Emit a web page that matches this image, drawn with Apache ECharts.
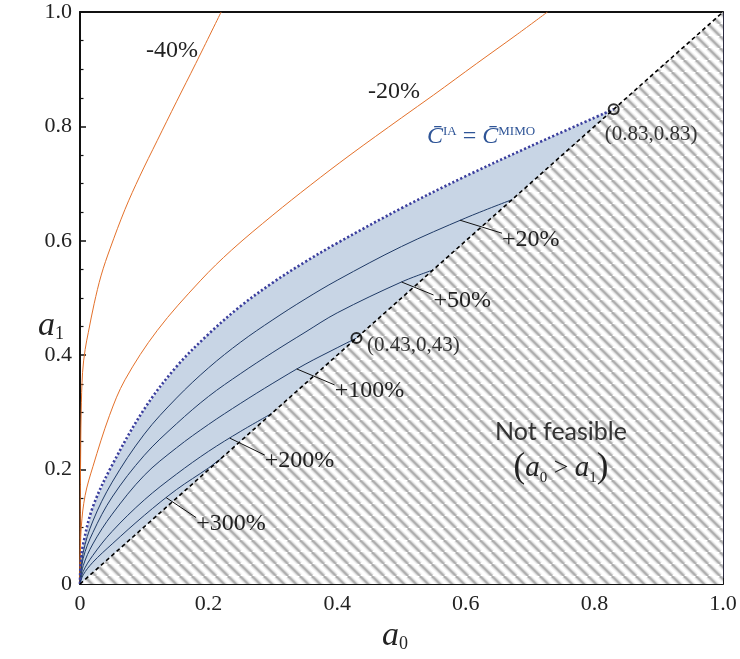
<!DOCTYPE html>
<html>
<head>
<meta charset="utf-8">
<script src="https://cdn.jsdelivr.net/npm/echarts@6.0.0/dist/echarts.min.js"></script>
<style>
  html, body { margin: 0; padding: 0; background: #fff; }
  #chart { width: 740px; height: 659px; }
</style>
</head>
<body>
<div id="chart"></div>
<script>
// ---- data (a0, a1) ----
// boundary where the IA sum capacity equals the MIMO one
const boundary = [[0,0],[0.001,0.035],[0.005,0.07],[0.02,0.135],[0.05,0.208],[0.1,0.306],[0.15,0.38],[0.2,0.437],[0.25,0.486],[0.3,0.527],[0.35,0.563],[0.4,0.596],[0.5,0.657],[0.6,0.713],[0.7,0.765],[0.83,0.83]];
// gain contours (IA over MIMO)
const gain20  = [[0,0],[0.005,0.055],[0.02,0.11],[0.05,0.178],[0.1,0.262],[0.15,0.325],[0.2,0.378],[0.25,0.423],[0.3,0.462],[0.35,0.498],[0.4,0.531],[0.5,0.59],[0.6,0.64],[0.672,0.672]];
const gain50  = [[0,0],[0.005,0.045],[0.02,0.09],[0.05,0.152],[0.1,0.225],[0.15,0.28],[0.2,0.328],[0.25,0.368],[0.3,0.405],[0.35,0.44],[0.4,0.474],[0.5,0.528],[0.549,0.549]];
const gain100 = [[0,0],[0.005,0.032],[0.02,0.07],[0.05,0.122],[0.1,0.19],[0.15,0.238],[0.2,0.279],[0.25,0.316],[0.3,0.351],[0.35,0.384],[0.4,0.413],[0.43,0.43]];
const gain200 = [[0,0],[0.005,0.022],[0.02,0.05],[0.05,0.092],[0.1,0.147],[0.15,0.192],[0.2,0.232],[0.25,0.267],[0.298,0.298]];
const gain300 = [[0,0],[0.005,0.016],[0.02,0.038],[0.05,0.07],[0.1,0.12],[0.15,0.165],[0.2,0.203],[0.222,0.222]];
// loss contours
const loss40 = [[0,0],[0.0003,0.1],[0.0008,0.2],[0.0018,0.3],[0.004,0.37],[0.008,0.41],[0.013,0.44],[0.022,0.49],[0.033,0.54],[0.047,0.587],[0.07,0.655],[0.093,0.713],[0.12,0.775],[0.15,0.843],[0.18,0.91],[0.2195,1.0]];
const loss20 = [[0,0],[0.0004,0.04],[0.002,0.1],[0.008,0.155],[0.02,0.205],[0.046,0.295],[0.07,0.357],[0.12,0.443],[0.187,0.53],[0.236,0.584],[0.3,0.645],[0.358,0.697],[0.42,0.75],[0.5,0.815],[0.55,0.855],[0.617,0.91],[0.68,0.961],[0.727,1.0]];
// a0 = a1 line and the infeasible triangle (a0 > a1)
const diagonal = [[0,0],[1,1]];
const infeasible = [[0,0],[1,0],[1,1]];
// marked points on the diagonal
const markedPoints = [[0.43,0.43],[0.83,0.83]];
// contour labels and the curve points their leaders start from
const leaderText = ['+20%','+50%','+100%','+200%','+300%'];
const leaderAnchors = [[0.591,0.636],[0.5,0.528],[0.337,0.376],[0.233,0.255],[0.134,0.151]];

// ---- layout ----
const leaderOffsets = [[42,13],[32,13],[38,16],[35,17],[30,20]];
const SERIF = '"Liberation Serif", "Times New Roman", serif';

// diagonal stripe tile for the infeasible region
function makeHatch() {
  const s = 12;
  const c = document.createElement('canvas');
  c.width = s; c.height = s;
  const g = c.getContext('2d');
  g.fillStyle = '#ffffff';
  g.fillRect(0, 0, s, s);
  const draw = (w, col) => {
    g.strokeStyle = col; g.lineWidth = w;
    for (const o of [-s, 0, s]) {
      g.beginPath(); g.moveTo(o, 0); g.lineTo(o + s, s); g.stroke();
    }
  };
  draw(5.5, '#eeeeee');
  draw(3.4, '#d2d2d2');
  draw(1.8, '#adadad');
  return c;
}

function polygonSeries(points, fill, z) {
  return {
    type: 'custom', coordinateSystem: 'cartesian2d', silent: true, z: z,
    data: [points[0]],
    renderItem: (params, api) => ({
      type: 'polygon',
      shape: { points: points.map(p => api.coord(p)) },
      style: { fill: fill }
    })
  };
}

function curve(data, color, width, type, z) {
  return {
    type: 'line', data: data, showSymbol: false, symbol: 'none', silent: true,
    smooth: 0.35, z: z,
    lineStyle: { color: color, width: width, type: type || 'solid' }
  };
}

const tickFmt = v => (v === 0 ? '0' : v.toFixed(1));
const axisCommon = {
  type: 'value', min: 0, max: 1, interval: 0.2,
  splitLine: { show: false },
  axisLine: { show: true, onZero: false, lineStyle: { color: '#111', width: 2 } },
  axisTick: { show: true, inside: true, length: 6, lineStyle: { color: '#111', width: 1.5 } },
  minorTick: { show: true, splitNumber: 4, length: 3.5, lineStyle: { color: '#111', width: 1.2 } },
  axisLabel: { formatter: tickFmt, fontFamily: SERIF, fontSize: 22, color: '#222' }
};

const chart = echarts.init(document.getElementById('chart'), null, { renderer: 'canvas' });

const option = {
  animation: false,
  backgroundColor: '#fff',
  grid: { left: 80, right: 17, top: 12, bottom: 75 },
  xAxis: [
    Object.assign({}, axisCommon, { position: 'bottom', axisLabel: Object.assign({}, axisCommon.axisLabel, { margin: 9 }) }),
    { type: 'value', min: 0, max: 1, position: 'top', axisLine: { show: true, onZero: false, lineStyle: { color: '#111', width: 2 } },
      axisTick: { show: false }, axisLabel: { show: false }, splitLine: { show: false } }
  ],
  yAxis: [
    Object.assign({}, axisCommon, { position: 'left', axisLabel: Object.assign({}, axisCommon.axisLabel, { margin: 8 }) }),
    { type: 'value', min: 0, max: 1, position: 'right', axisLine: { show: true, onZero: false, lineStyle: { color: '#2a2a40', width: 1 } },
      axisTick: { show: false }, axisLabel: { show: false }, splitLine: { show: false } }
  ],
  series: [
    polygonSeries(infeasible, { image: makeHatch(), repeat: 'repeat' }, 1),
    polygonSeries(boundary.concat([[0,0]]), '#c8d5e5', 2),
    curve(loss40, '#e3702a', 1, 'solid', 3),
    curve(loss20, '#e3702a', 1, 'solid', 3),
    curve(gain20,  '#1f3a66', 1, 'solid', 3),
    curve(gain50,  '#1f3a66', 1, 'solid', 3),
    curve(gain100, '#1f3a66', 1, 'solid', 3),
    curve(gain200, '#1f3a66', 1, 'solid', 3),
    curve(gain300, '#1f3a66', 1, 'solid', 3),
    curve(boundary, '#3b3f9e', 2.6, [2.2, 2.2], 4),
    Object.assign(curve(diagonal, '#000', 1.6, [4, 3], 4), { smooth: false }),
    {
      type: 'scatter', data: markedPoints, symbol: 'circle', symbolSize: 10, z: 6, silent: true,
      itemStyle: { color: 'rgba(0,0,0,0)', borderColor: '#000', borderWidth: 2 }
    },
    {
      type: 'custom', coordinateSystem: 'cartesian2d', silent: true, z: 7, clip: false,
      data: leaderAnchors,
      renderItem: (params, api) => {
        const i = params.dataIndex;
        const p = api.coord([api.value(0), api.value(1)]);
        const d = leaderOffsets[i];
        return {
          type: 'group',
          children: [
            { type: 'line', shape: { x1: p[0], y1: p[1], x2: p[0] + d[0], y2: p[1] + d[1] },
              style: { stroke: '#111', lineWidth: 1 } },
            { type: 'text', x: p[0] + d[0], y: p[1] + d[1] + 6,
              style: { text: leaderText[i], font: '24px ' + SERIF, fill: '#222', align: 'left', verticalAlign: 'middle' } }
          ]
        };
      }
    }
  ],
  graphic: [
    { type: 'text', x: 172, y: 51, z: 10, style: { text: '-40%', font: '24px ' + SERIF, fill: '#222', align: 'center', verticalAlign: 'middle' } },
    { type: 'text', x: 394, y: 92, z: 10, style: { text: '-20%', font: '24px ' + SERIF, fill: '#222', align: 'center', verticalAlign: 'middle' } },
    { type: 'text', x: 427, y: 137, z: 10, style: {
        text: '{c|C\u0304}{sup|IA}{eq| = }{c|C\u0304}{sup|MIMO}', align: 'left', verticalAlign: 'middle',
        rich: {
          c: { fontFamily: SERIF, fontStyle: 'italic', fontSize: 24, fill: '#2f5597' },
          sup: { fontFamily: SERIF, fontSize: 13, fill: '#2f5597', verticalAlign: 'top' },
          eq: { fontFamily: SERIF, fontSize: 24, fill: '#2f5597' }
        } } },
    { type: 'text', x: 651, y: 134, z: 10, style: { text: '(0.83,0.83)', font: '21px ' + SERIF, fill: '#333', align: 'center', verticalAlign: 'middle' } },
    { type: 'text', x: 367, y: 345, z: 10, style: { text: '(0.43,0,43)', font: '21px ' + SERIF, fill: '#333', align: 'left', verticalAlign: 'middle' } },
    { type: 'text', x: 561, y: 432, z: 10, style: { text: 'Not feasible', font: '25px Lato, "Open Sans", sans-serif', fill: '#333', align: 'center', verticalAlign: 'middle' } },
    { type: 'text', x: 561, y: 468, z: 10, style: {
        text: '{p|(}{a|a}{s|0}{g| > }{a|a}{s|1}{p|)}', align: 'center', verticalAlign: 'middle',
        rich: {
          p: { fontFamily: SERIF, fontSize: 35, fill: '#222' },
          a: { fontFamily: SERIF, fontStyle: 'italic', fontSize: 29, fill: '#222' },
          s: { fontFamily: SERIF, fontSize: 15, fill: '#222', verticalAlign: 'bottom' },
          g: { fontFamily: SERIF, fontSize: 26, fill: '#222' }
        } } },
    { type: 'text', x: 395, y: 636, z: 10, style: {
        text: '{a|a}{s|0}', align: 'center', verticalAlign: 'middle',
        rich: {
          a: { fontFamily: SERIF, fontStyle: 'italic', fontSize: 34, fill: '#222' },
          s: { fontFamily: SERIF, fontSize: 18, fill: '#222', verticalAlign: 'bottom' }
        } } },
    { type: 'text', x: 51, y: 326, z: 10, style: {
        text: '{a|a}{s|1}', align: 'center', verticalAlign: 'middle',
        rich: {
          a: { fontFamily: SERIF, fontStyle: 'italic', fontSize: 34, fill: '#222' },
          s: { fontFamily: SERIF, fontSize: 18, fill: '#222', verticalAlign: 'bottom' }
        } } }
  ]
};

chart.setOption(option);
</script>
</body>
</html>
